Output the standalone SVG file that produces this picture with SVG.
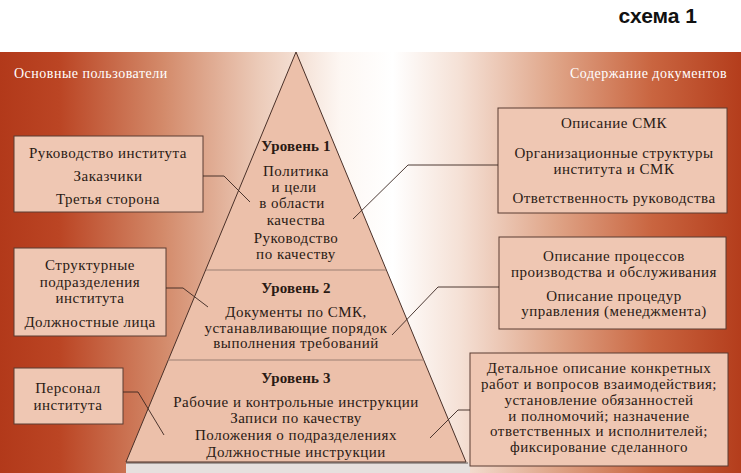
<svg xmlns="http://www.w3.org/2000/svg" width="741" height="473" viewBox="0 0 741 473">
<defs>
<linearGradient id="bg" x1="0" y1="0" x2="741" y2="0" gradientUnits="userSpaceOnUse">
<stop offset="0" stop-color="#b2391a"/>
<stop offset="0.08" stop-color="#bb4524"/>
<stop offset="0.22" stop-color="#d38a6a"/>
<stop offset="0.35" stop-color="#eccbb9"/>
<stop offset="0.46" stop-color="#fdf7f3"/>
<stop offset="0.53" stop-color="#ffffff"/>
<stop offset="0.62" stop-color="#f5e1d6"/>
<stop offset="0.75" stop-color="#dfa487"/>
<stop offset="0.88" stop-color="#c96540"/>
<stop offset="1" stop-color="#b43d1c"/>
</linearGradient>
<style>
.t{font-family:"Liberation Serif","Times New Roman","DejaVu Serif",serif;font-size:15px;letter-spacing:0.5px;fill:#2a1a14;text-anchor:middle}
.b{font-weight:bold;letter-spacing:0.2px}
.h{font-family:"Liberation Serif","Times New Roman","DejaVu Serif",serif;font-size:14px;letter-spacing:0.5px;fill:#ffffff}
.box{fill:#efc7b3;stroke:#5a3c32;stroke-width:1}
.pyr{fill:#ecc0aa;stroke:#4a3028;stroke-width:1}
.div{stroke:#9a7e72;stroke-width:1.2;fill:none}
.con{fill:none;stroke:#3a2620;stroke-width:0.9}
</style>
</defs>
<rect x="0" y="0" width="741" height="473" fill="#ffffff"/>
<text x="697" y="23" font-family="Liberation Sans, Arial, sans-serif" font-size="21" font-weight="bold" text-anchor="end" fill="#111111">схема 1</text>
<rect x="0" y="52" width="741" height="421" fill="url(#bg)"/>
<text class="h" x="14" y="78">Основные пользователи</text>
<text class="h" x="727" y="78" text-anchor="end">Содержание документов</text>

<g id="pyramid">
<rect x="126" y="463" width="344" height="10" fill="#e6e0de"/>
<line x1="126" y1="463" x2="468" y2="463" stroke="#8c8480" stroke-width="1.5"/>
<polygon class="pyr" points="296,52 466,462 126,462"/>
<line class="div" x1="206" y1="270" x2="386" y2="270"/>
<line class="div" x1="168" y1="360" x2="424" y2="360"/>
</g>

<g id="level1">
<text class="t b" x="296" y="151">Уровень 1</text>
<text class="t" x="296" y="176">Политика</text>
<text class="t" x="294" y="192">и цели</text>
<text class="t" x="292" y="208">в области</text>
<text class="t" x="296" y="225">качества</text>
<text class="t" x="296" y="243">Руководство</text>
<text class="t" x="296" y="259">по качеству</text>
</g>
<g id="level2">
<text class="t b" x="296" y="293">Уровень 2</text>
<text class="t" x="296" y="317">Документы по СМК,</text>
<text class="t" x="296" y="333">устанавливающие порядок</text>
<text class="t" x="296" y="348">выполнения требований</text>
</g>
<g id="level3">
<text class="t b" x="296" y="383">Уровень 3</text>
<text class="t" x="296" y="407">Рабочие и контрольные инструкции</text>
<text class="t" x="296" y="423">Записи по качеству</text>
<text class="t" x="296" y="440">Положения о подразделениях</text>
<text class="t" x="296" y="457">Должностные инструкции</text>
</g>

<g id="users1">
<rect class="box" x="14" y="136" width="189" height="76"/>
<text class="t" x="108" y="158">Руководство института</text>
<text class="t" x="108" y="181">Заказчики</text>
<text class="t" x="108" y="204">Третья сторона</text>
</g>
<g id="users2">
<rect class="box" x="14" y="248" width="152" height="88"/>
<text class="t" x="90" y="270">Структурные</text>
<text class="t" x="90" y="287">подразделения</text>
<text class="t" x="90" y="303">института</text>
<text class="t" x="90" y="327">Должностные лица</text>
</g>
<g id="users3">
<rect class="box" x="14" y="368" width="109" height="56"/>
<text class="t" x="68" y="393">Персонал</text>
<text class="t" x="68" y="410">института</text>
</g>

<g id="docs1">
<rect class="box" x="498" y="108" width="229" height="105"/>
<text class="t" x="614" y="128">Описание СМК</text>
<text class="t" x="614" y="158">Организационные структуры</text>
<text class="t" x="614" y="174">института и СМК</text>
<text class="t" x="614" y="203">Ответственность руководства</text>
</g>
<g id="docs2">
<rect class="box" x="499" y="237" width="227" height="92"/>
<text class="t" x="614" y="261">Описание процессов</text>
<text class="t" x="614" y="277">производства и обслуживания</text>
<text class="t" x="614" y="301">Описание процедур</text>
<text class="t" x="614" y="316">управления (менеджмента)</text>
</g>
<g id="docs3">
<rect class="box" x="470" y="353" width="258" height="113"/>
<text class="t" x="599" y="373">Детальное описание конкретных</text>
<text class="t" x="599" y="389">работ и вопросов взаимодействия;</text>
<text class="t" x="599" y="405">установление обязанностей</text>
<text class="t" x="599" y="421">и полномочий; назначение</text>
<text class="t" x="599" y="436">ответственных и исполнителей;</text>
<text class="t" x="599" y="452">фиксирование сделанного</text>
</g>

<g id="connectors">
<polyline class="con" points="203,176 224,176 250,202"/>
<polyline class="con" points="166,288 183,288 208,307"/>
<polyline class="con" points="123,392 138,392 164,435"/>
<polyline class="con" points="353,219 408,165 498,165"/>
<polyline class="con" points="392,335 438,287 499,287"/>
<polyline class="con" points="430,438 458,410 470,410"/>
</g>
</svg>
